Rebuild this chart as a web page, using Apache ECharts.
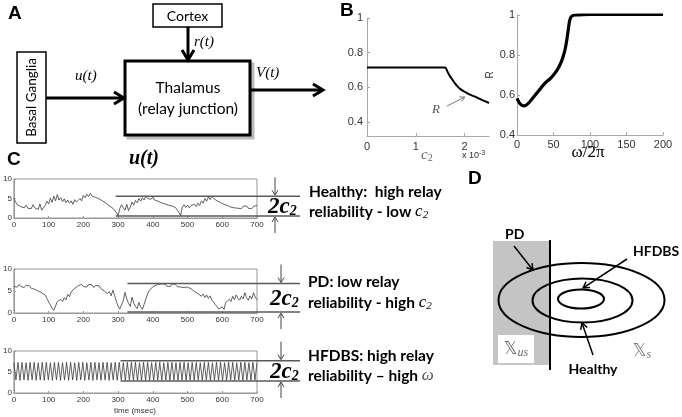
<!DOCTYPE html>
<html><head><meta charset="utf-8">
<script src="https://cdn.jsdelivr.net/npm/echarts@6/dist/echarts.min.js"></script>
<style>html,body{margin:0;padding:0;background:#fff}#c{width:682px;height:417px}</style>
</head><body><div id="c"></div>
<script>
// ---------- DATA ----------
// Panel B (left): relay reliability R vs c2 (x 10^-3)
const c2Vals = [0, 0.5, 1.0, 1.5, 1.6, 1.65, 1.7, 1.75, 1.8, 1.85, 1.9, 2.0, 2.1, 2.2, 2.3, 2.4, 2.5];
const rVsC2  = [0.715, 0.715, 0.715, 0.715, 0.715, 0.69, 0.665, 0.645, 0.625, 0.607, 0.593, 0.575, 0.56, 0.548, 0.535, 0.522, 0.51];
// Panel B (right): R vs omega/2pi
const omegaVals = [0, 3, 6, 9, 12, 16, 20, 25, 30, 35, 40, 45, 50, 55, 60, 63, 66, 68, 70, 72, 74, 77, 80, 90, 100, 120, 150, 200];
const rVsOmega  = [0.583, 0.562, 0.55, 0.546, 0.548, 0.56, 0.578, 0.6, 0.622, 0.645, 0.665, 0.68, 0.7, 0.725, 0.76, 0.79, 0.83, 0.87, 0.92, 0.97, 0.99, 0.998, 1.0, 1.002, 1.003, 1.003, 1.003, 1.003];
// Panel C: u(t) traces, sampled every 5 ms (0..700 ms)
const sampleStepMs = 5;
const healthyU = [5.0,4.1,3.4,3.8,2.9,3.2,2.6,3.3,2.5,3.0, 2.4,3.4,2.6,3.1,2.2,3.6,2.0,1.6,3.2,4.3,
  3.6,5.1,4.0,5.6,4.4,6.0,4.6,5.2,4.2,4.9, 3.9,4.6,3.8,4.4,3.5,4.7,4.1,3.6,5.0,4.4,
  5.8,5.2,6.1,5.5,6.3,5.6,6.0,5.3,5.8,4.9, 5.3,4.4,4.7,3.8,3.9,3.1,3.3,2.5,2.2,1.4,
  0.6,2.4,3.4,2.6,2.0,3.5,1.9,2.8,4.1,3.3, 4.5,3.9,5.0,4.3,5.2,4.6,5.6,5.0,5.5,4.8,
  5.4,4.6,5.1,4.3,4.7,3.9,4.4,3.6,4.0,3.3, 3.8,3.1,3.6,2.7,2.4,1.5,0.6,2.8,3.4,2.7,
  3.3,2.6,3.2,2.8,3.5,2.9,3.8,3.2,4.4,3.8, 5.0,4.3,5.4,4.7,5.6,5.0,5.3,4.4,4.8,4.0,
  4.4,3.5,4.0,3.2,3.6,2.8,3.3,2.6,3.1,2.5, 3.0,2.4,3.0,2.6,3.1,2.5,2.9,2.4,3.0,2.6, 3.2];
const pdU = [6.0,6.4,5.9,6.5,6.0,6.4,5.8,6.3,5.9,6.2, 5.6,6.0,5.4,5.7,5.0,5.3,4.6,4.8,4.1,3.3,
  2.5,1.8,1.1,0.6,0.3,2.6,2.2,3.1,2.6,3.5, 3.0,4.2,3.7,4.8,4.4,5.6,5.2,6.2,5.8,6.5,
  6.0,6.4,5.9,6.5,6.1,6.4,5.8,6.3,5.9,6.2, 5.6,5.9,5.0,5.4,4.4,4.9,3.9,5.2,4.0,2.6,
  1.6,0.9,0.6,2.8,4.7,3.2,2.2,1.5,3.6,2.3, 1.5,1.0,2.4,1.4,0.8,0.6,3.2,4.4,5.1,5.6,
  5.4,6.2,5.9,6.5,6.1,6.6,6.2,6.6,6.1,6.5, 6.0,6.6,6.2,6.5,6.0,6.4,5.9,6.3,5.8,6.2,
  5.9,6.3,5.5,5.8,4.9,5.1,4.4,4.7,3.8,4.3, 3.5,4.1,3.3,3.9,3.0,2.6,1.9,1.4,0.9,0.6,
  1.4,0.8,2.4,2.0,3.1,2.6,3.8,3.0,4.1,3.4, 2.9,3.8,3.2,4.6,3.5,2.9,3.9,3.2,4.6,3.6, 3.0];
// HFDBS: peaks/troughs every half period
const hfStepMs = 700 / 120;
const hfdbsU = [7.2,3.1,7.3,3.0,7.3,3.1,7.2,3.0,7.3,3.1, 7.3,3.0,7.2,3.1,7.3,3.0,7.3,3.1,7.2,3.0,
  7.3,3.1,7.3,3.0,7.2,3.1,7.3,3.0,7.3,3.1, 7.2,3.0,7.3,3.1,7.3,3.0,7.2,3.1,7.3,3.0,
  7.3,3.1,7.2,3.0,7.3,3.1,7.3,3.0,7.2,3.1, 7.3,3.0,7.3,3.1,7.2,3.0,7.3,3.1,7.3,3.0,
  7.3,3.0,7.2,3.1,7.3,3.0,7.3,3.1,7.2,3.0, 7.3,3.1,7.3,3.0,7.2,3.1,7.3,3.0,7.3,3.1,
  7.2,3.0,7.3,3.1,7.3,3.0,7.2,3.1,7.3,3.0, 7.3,3.1,7.2,3.0,7.3,3.1,7.3,3.0,7.2,3.1,
  7.3,3.0,7.3,3.1,7.2,3.0,7.3,3.1,7.3,3.0, 7.2,3.1,7.3,3.0,7.3,3.1,7.2,3.0,7.3,3.1, 7.2];
// 2c2 band levels (start time ms, upper, lower)
const bandStart = [293, 327, 307];
const bandHigh  = [5.6, 6.7, 7.7];
const bandLow   = [0.5, 0.2, 2.85];
// tick labels
const bLeftYTicks = [0.4, 0.6, 0.8, 1];
const bLeftXTicks = [0, 1, 2];
const bRightYTicks = [0.4, 0.6, 0.8, 1];

// ---------- CHART ----------
const chart = echarts.init(document.getElementById('c'), null, {renderer: 'canvas', width: 682, height: 417});
const zip = (xs, ys) => xs.map((x, i) => [x, ys[i]]);
const timed = (ys, step) => ys.map((y, i) => [i * step, y]);

const AX = '#a8a8a8', LBL = '#333';
function bAxisX(grid, min, max, extra) {
  return Object.assign({type: 'value', gridIndex: grid, min, max,
    axisLine: {show: true, onZero: false, lineStyle: {color: AX}},
    axisTick: {show: true, inside: true, length: 3, lineStyle: {color: AX}},
    axisLabel: {color: LBL, fontSize: 11, fontFamily: 'Liberation Sans', margin: 4},
    splitLine: {show: false}}, extra);
}
function cAxis(grid, isX) {
  const base = {type: 'value', gridIndex: grid,
    axisLine: {show: true, onZero: false, lineStyle: {color: '#999'}},
    axisTick: {show: true, inside: true, length: 2, lineStyle: {color: '#999'}},
    axisLabel: {color: LBL, fontSize: 8, fontFamily: 'Liberation Sans', margin: isX ? 3 : 2},
    splitLine: {show: false}};
  if (isX) Object.assign(base, {min: 0, max: 700, interval: 100});
  else Object.assign(base, {min: 0, max: 10, interval: 5});
  return base;
}
const cGrid = (top, h) => ({left: 12, top, width: 245, height: h, show: true, borderColor: '#999', borderWidth: 1, backgroundColor: 'transparent'});

chart.setOption({
  animation: false,
  grid: [
    {left: 367, top: 18, width: 122, height: 118},
    {left: 517, top: 15, width: 146, height: 120},
    cGrid(179, 39), cGrid(269, 44), cGrid(351, 42)
  ],
  xAxis: [
    bAxisX(0, 0, 2.5, {axisLabel: {color: LBL, fontSize: 11, fontFamily: 'Liberation Sans', margin: 5, customValues: bLeftXTicks}, axisTick: {show: true, inside: true, length: 3, lineStyle: {color: AX}, customValues: bLeftXTicks}}),
    bAxisX(1, 0, 200, {interval: 50}),
    cAxis(2, true), cAxis(3, true), cAxis(4, true)
  ],
  yAxis: [
    bAxisX(0, 0.32, 1, {axisLabel: {color: LBL, fontSize: 11, fontFamily: 'Liberation Sans', margin: 4, customValues: bLeftYTicks}, axisTick: {show: true, inside: true, length: 3, lineStyle: {color: AX}, customValues: bLeftYTicks}}),
    bAxisX(1, 0.4, 1, {name: 'R', nameLocation: 'middle', nameGap: 22, nameRotate: 90, nameTextStyle: {color: LBL, fontSize: 10, fontFamily: 'Liberation Sans'},
      axisLabel: {color: LBL, fontSize: 11, fontFamily: 'Liberation Sans', margin: 2, customValues: bRightYTicks}, axisTick: {show: true, inside: true, length: 3, lineStyle: {color: AX}, customValues: bRightYTicks}}),
    cAxis(2, false), cAxis(3, false), cAxis(4, false)
  ],
  series: [
    {type: 'line', xAxisIndex: 0, yAxisIndex: 0, data: zip(c2Vals, rVsC2), showSymbol: false, smooth: 0.3, lineStyle: {color: '#000', width: 2}},
    {type: 'line', xAxisIndex: 1, yAxisIndex: 1, data: zip(omegaVals, rVsOmega), showSymbol: false, smooth: 0.3, lineStyle: {color: '#000', width: 3.2}},
    {type: 'line', xAxisIndex: 2, yAxisIndex: 2, data: timed(healthyU, sampleStepMs), showSymbol: false, lineStyle: {color: '#3a3a3a', width: 0.8}},
    {type: 'line', xAxisIndex: 3, yAxisIndex: 3, data: timed(pdU, sampleStepMs), showSymbol: false, lineStyle: {color: '#3a3a3a', width: 0.8}},
    {type: 'line', xAxisIndex: 4, yAxisIndex: 4, data: timed(hfdbsU, hfStepMs), showSymbol: false, lineStyle: {color: '#3a3a3a', width: 0.8}}
  ]
});

// ---------- GRAPHICS ----------
const G = [];
function line(x1, y1, x2, y2, color, lw) { G.push({type: 'line', z: 100, shape: {x1, y1, x2, y2}, style: {stroke: color, lineWidth: lw}}); }
function arrow(x1, y1, x2, y2, color, lw, hl, hw) {
  const dx = x2 - x1, dy = y2 - y1, L = Math.hypot(dx, dy), ux = dx / L, uy = dy / L;
  const bx = x2 - ux * hl, by = y2 - uy * hl, px = -uy, py = ux;
  line(x1, y1, x2 - ux * lw * 0.5, y2 - uy * lw * 0.5, color, lw);
  G.push({type: 'polyline', z: 100, shape: {points: [[bx + px * hw, by + py * hw], [x2, y2], [bx - px * hw, by - py * hw]]},
    style: {stroke: color, lineWidth: lw, fill: 'none', lineJoin: 'miter'}});
}
function text(x, y, t, font, o) {
  o = o || {};
  const st = Object.assign({text: t, x: 0, y: 0, font, fill: o.fill || '#000',
    align: o.align || 'left', verticalAlign: o.va || 'middle', textAlign: o.align || 'left', textVerticalAlign: o.va || 'middle'}, o.style || {});
  G.push({type: 'text', z: 110, x, y, rotation: o.rot || 0, style: st});
}
function rect(x, y, w, h, stroke, fill, lw, z) {
  G.push({type: 'rect', z: z || 90, shape: {x, y, width: w, height: h}, style: {stroke, fill, lineWidth: lw}});
}
const SANS = 'Lato', SERIF = 'Liberation Serif';

// Panel labels
text(8, 14, 'A', 'bold 19px Liberation Sans');
text(340, 11, 'B', 'bold 19px Liberation Sans');
text(7, 160, 'C', 'bold 19px Liberation Sans');
text(468, 179, 'D', 'bold 19px Liberation Sans');

// Panel A
rect(153, 4, 69, 23, '#000', '#fff', 1.5);
text(187.5, 16, 'Cortex', '14px ' + SANS, {align: 'center'});
arrow(188, 27, 188, 60, '#000', 3, 10, 6);
text(194, 42, 'r(t)', 'italic 15px ' + SERIF);
rect(17, 52, 29, 91, '#000', '#fff', 1.5);
text(32, 97.5, 'Basal Ganglia', '13.5px ' + SANS, {align: 'center', rot: Math.PI / 2});
arrow(46, 98, 124, 98, '#000', 3, 10, 6);
text(75, 76, 'u(t)', 'italic 15px ' + SERIF);
rect(128, 64, 125, 74, '#bbb', '#bbb', 3, 88);
rect(125, 61, 125, 74, '#000', '#fff', 3);
text(188, 88, 'Thalamus', '15.5px ' + SANS, {align: 'center'});
text(188, 109, '(relay junction)', '15.5px ' + SANS, {align: 'center'});
arrow(251, 90, 323, 90, '#000', 3, 10, 6);
text(256, 73, 'V(t)', 'italic 15px ' + SERIF);

// Panel B annotations
arrow(447, 106, 465, 97, '#777', 1, 5, 2.5);
text(432, 110, 'R', 'italic 13px ' + SERIF, {fill: '#555'});
text(421, 155, '', '', {style: {text: '{c|c}{s|2}', rich: {c: {fontFamily: SERIF, fontStyle: 'italic', fontSize: 15, fill: '#666'}, s: {fontFamily: SERIF, fontSize: 10, fill: '#666', padding: [6, 0, 0, 0]}}}});
text(462, 156, 'x 10', '9px Liberation Sans', {fill: '#333', style: {text: 'x 10{s|-3}', rich: {s: {fontSize: 7, fontFamily: 'Liberation Sans', fill: '#333', padding: [0, 0, 6, 0]}}}});
text(588, 153, 'ω/2π', '17px ' + SERIF, {align: 'center'});

// Panel C title
text(144, 159, 'u(t)', 'bold italic 20px ' + SERIF, {align: 'center'});
text(135, 411, 'time (msec)', '8px Liberation Sans', {align: 'center', fill: '#333'});

// bands + arrows + 2c2
const arrowX = [275, 281, 281];
const bandTextX = [268, 270, 270];
const bandGrid = [2, 3, 4];
const BC = '#5a5a5a';
const twoC2 = {a: {fontFamily: SERIF, fontStyle: 'italic', fontWeight: 'bold', fontSize: 23, fill: '#000'}, s: {fontFamily: SERIF, fontStyle: 'italic', fontWeight: 'bold', fontSize: 14, fill: '#000', padding: [9, 0, 0, 0]}};
for (let i = 0; i < 3; i++) {
  const hi = chart.convertToPixel({gridIndex: bandGrid[i]}, [bandStart[i], bandHigh[i]]);
  const lo = chart.convertToPixel({gridIndex: bandGrid[i]}, [bandStart[i], bandLow[i]]);
  line(hi[0], hi[1], 300, hi[1], BC, 1.5);
  line(lo[0], lo[1], 300, lo[1], BC, 1.5);
  arrow(arrowX[i], hi[1] - 19, arrowX[i], hi[1] - 1, '#444', 1, 5, 3);
  arrow(arrowX[i], lo[1] + 17, arrowX[i], lo[1] + 1, '#444', 1, 5, 3);
  text(bandTextX[i], (hi[1] + lo[1]) / 2 + 1, '2c2', '', {style: {text: '{a|2c}{s|2}', rich: twoC2}});
}
// descriptive texts
const T = 'bold 15.5px ' + SANS;
const sym = {m: {fontFamily: SERIF, fontStyle: 'italic', fontSize: 17, fill: '#000'}, s: {fontFamily: SERIF, fontStyle: 'italic', fontSize: 11, fill: '#000', padding: [6, 0, 0, 0]}, w: {fontFamily: SERIF, fontStyle: 'italic', fontSize: 17, fill: '#555'}};
text(309, 192, 'Healthy:  high relay', T);
text(309, 212, '', T, {style: {text: 'reliability - low {m|c}{s|2}', rich: sym}});
text(308, 282, 'PD: low relay', T);
text(308, 303, '', T, {style: {text: 'reliability - high {m|c}{s|2}', rich: sym}});
text(308, 356, 'HFDBS: high relay', T);
text(308, 376, '', T, {style: {text: 'reliability – high {w|ω}', rich: sym}});

// Panel D
rect(493, 241, 57, 124, null, '#c4c4c4', 0, 80);
rect(498, 335, 36, 28, null, '#fff', 0, 81);
const ell = (cx, cy, rx, ry) => G.push({type: 'ellipse', z: 95, shape: {cx, cy, rx, ry}, style: {stroke: '#000', fill: 'none', lineWidth: 2}});
ell(581.5, 300, 83, 37);
ell(582.5, 300.5, 50, 22);
ell(581, 299, 23, 9.5);
line(550, 240, 550, 370, '#000', 2);
text(505, 234, 'PD', 'bold 14px ' + SANS);
arrow(514, 246, 533, 270, '#000', 1.5, 6, 3.5);
text(633, 251, 'HFDBS', 'bold 14px ' + SANS);
arrow(627, 259, 583, 288, '#000', 1.5, 6, 3.5);
text(593, 369, 'Healthy', 'bold 14px ' + SANS, {align: 'center'});
arrow(593, 355, 582, 323, '#000', 1.5, 6, 3.5);
text(516, 350, '', '', {align: 'center', style: {text: '{x|𝕏}{s|us}', rich: {x: {fontFamily: 'DejaVu Sans', fontSize: 17, fill: '#666'}, s: {fontFamily: SERIF, fontStyle: 'italic', fontSize: 12, fill: '#666', padding: [6, 0, 0, 0]}}}});
text(642, 352, '', '', {align: 'center', style: {text: '{x|𝕏}{s|s}', rich: {x: {fontFamily: 'DejaVu Sans', fontSize: 17, fill: '#777'}, s: {fontFamily: SERIF, fontStyle: 'italic', fontSize: 12, fill: '#777', padding: [6, 0, 0, 0]}}}});

chart.setOption({graphic: {elements: G}});
</script></body></html>
